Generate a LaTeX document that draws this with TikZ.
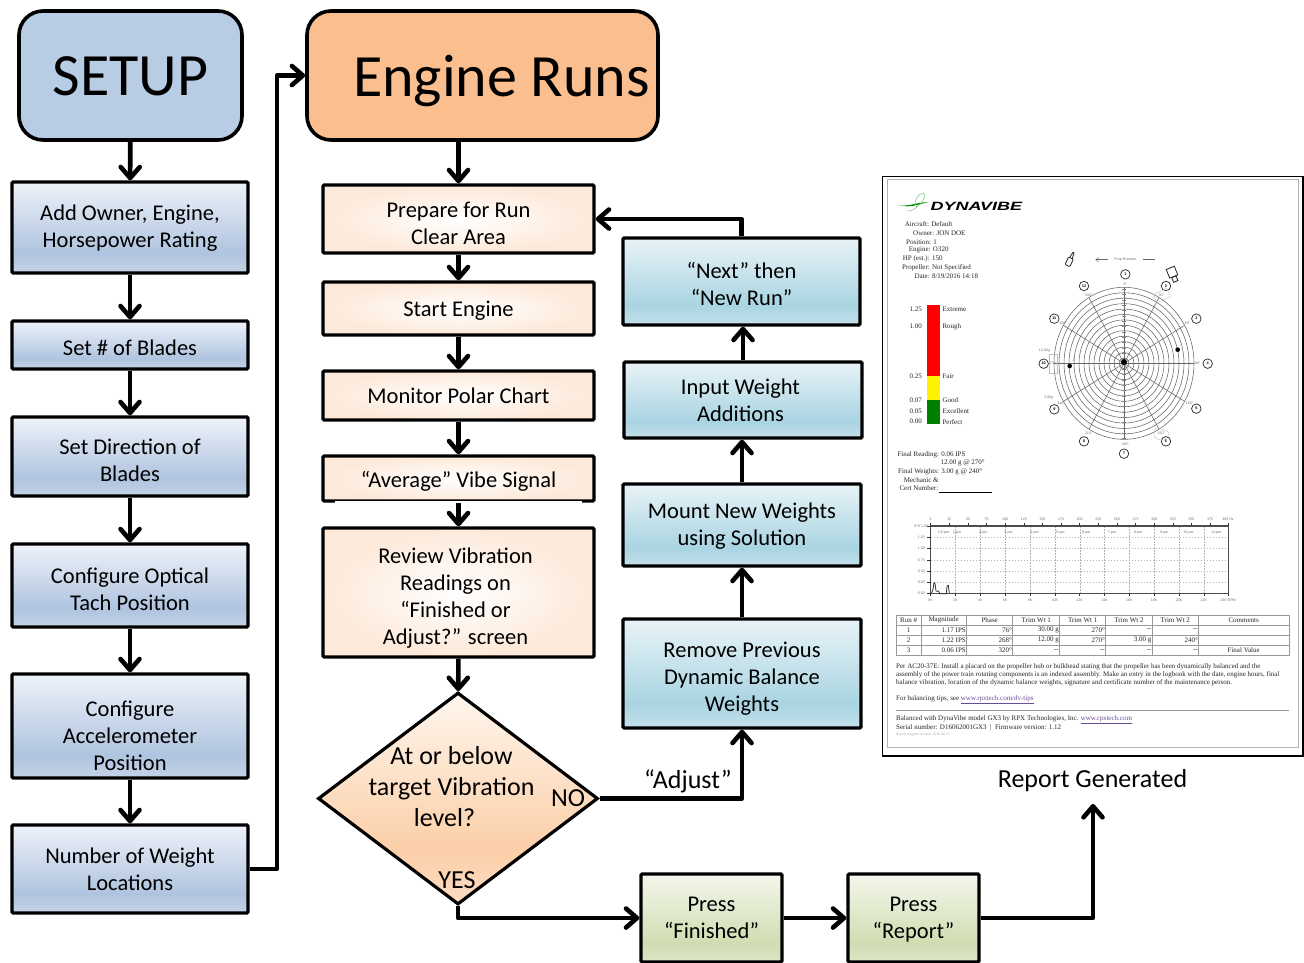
\documentclass[tikz,border=0pt]{standalone}
\usepackage{fontspec}
\setmainfont{Carlito}
\newfontfamily\rfont{Liberation Serif}
\newfontfamily\lfont{Liberation Sans}
\usetikzlibrary{arrows.meta,shapes.geometric}
\definecolor{bT}{HTML}{EEF2F9}\definecolor{bM}{HTML}{AFC4DF}\definecolor{bB}{HTML}{C4D3E7}
\definecolor{tT}{HTML}{E8F3F7}\definecolor{tM}{HTML}{A9D4E2}\definecolor{tB}{HTML}{C4E1EA}
\definecolor{gT}{HTML}{F4F7EC}\definecolor{gM}{HTML}{D0DDB2}\definecolor{gB}{HTML}{DCE6C6}
\definecolor{dT}{HTML}{FFF6EE}\definecolor{dM}{HTML}{FBCFA8}\definecolor{dB}{HTML}{FDDCC2}
\definecolor{peach}{HTML}{FDE9D9}
\definecolor{setupc}{HTML}{B8CCE4}
\definecolor{enginec}{HTML}{FBBF8F}
\definecolor{linkc}{HTML}{6A4A9A}
\pgfdeclareverticalshading{bluegrad}{100bp}{color(0bp)=(bB);color(25bp)=(bB);color(36bp)=(bM);color(75bp)=(bT);color(100bp)=(bT)}
\pgfdeclareverticalshading{tealgrad}{100bp}{color(0bp)=(tB);color(25bp)=(tB);color(36bp)=(tM);color(75bp)=(tT);color(100bp)=(tT)}
\pgfdeclareverticalshading{greengrad}{100bp}{color(0bp)=(gB);color(25bp)=(gB);color(36bp)=(gM);color(75bp)=(gT);color(100bp)=(gT)}
\pgfdeclareverticalshading{diagrad}{100bp}{color(0bp)=(dB);color(25bp)=(dB);color(38bp)=(dM);color(75bp)=(dT);color(100bp)=(dT)}
\tikzset{
  base/.style={rectangle,draw=black,line width=3.4pt,rounded corners=1.2pt,inner sep=0pt,align=center,
    font=\fontsize{22.5}{27}\selectfont},
  bluebox/.style={base,shading=bluegrad},
  tealbox/.style={base,shading=tealgrad},
  greenbox/.style={base,shading=greengrad},
  peachbox/.style={base,shading=radial,inner color=white,outer color=peach},
  bigbox/.style={base,rounded corners=24pt,line width=3.6pt,font=\fontsize{60}{70}\selectfont},
  flow/.style={line width=4.6pt,line join=round,-{Straight Barb[length=11pt,width=19pt,line width=4.6pt,round]}},
  plainlab/.style={inner sep=0pt,font=\fontsize{26}{31}\selectfont,align=center},
  rtext/.style={anchor=west,inner sep=0pt,font=\rfont\fontsize{7}{8}\selectfont,text=black!85},
  rtiny/.style={anchor=center,inner sep=0pt,font=\lfont\fontsize{3.6}{4}\selectfont,text=black!55},
  num/.style={circle,draw=black!85,line width=.7pt,minimum size=9.5pt,inner sep=0pt,font=\lfont\bfseries\fontsize{3.8}{4}\selectfont},
  grid/.style={black!30,line width=.3pt,dash pattern=on 1.5pt off 1.5pt},
  tline/.style={black!40,line width=.55pt},
}
\newcommand\bx[7]{\node[#1,minimum width={(#5-#3)*1pt},minimum height={(#6-#4)*1pt}] (#2) at ({(#3+#5)/2},{(#4+#6)/2}) {#7};}
\newcommand\dn[1]{\rule{0pt}{\dimexpr 16.5pt+#1pt+#1pt\relax}}
\newcounter{rp}
\newcommand\rp[4][]{\stepcounter{rp}\node[rtext,#1] (rp\arabic{rp}) at (#2,#3) {#4};}
\newcommand\rsm[4][]{\stepcounter{rp}\node[rtiny,#1] (rp\arabic{rp}) at (#2,#3) {#4};}
\begin{document}
\begin{tikzpicture}[x=1pt,y=-1pt]
\useasboundingbox (0,0) rectangle (1304,962);
% --- left column
\bx{bigbox,fill=setupc}{setup}{19}{11}{242}{140}{\rule{0pt}{41pt}SETUP}
\bx{bluebox}{owner}{12}{182}{248}{273}{\dn{0}Add Owner, Engine,\\Horsepower Rating}
\bx{bluebox}{blades}{12}{321}{248}{369}{\dn{2}Set \# of Blades}
\bx{bluebox}{direction}{12}{417}{248}{496}{\dn{3}Set Direction of\\Blades}
\bx{bluebox}{optical}{12}{544}{248}{627}{\dn{3}Configure Optical\\Tach Position}
\bx{bluebox}{accel}{12}{674}{248}{778}{\dn{9}Configure\\Accelerometer\\Position}
\bx{bluebox}{locations}{12}{825}{248}{913}{Number of Weight\\Locations}
% --- centre column
\bx{bigbox,fill=enginec}{engine}{307}{11}{658}{140}{\rule{0pt}{52pt}\hspace*{38pt}Engine Runs}
\bx{peachbox}{prepare}{323}{185}{594}{253}{\dn{4}Prepare for Run\\Clear Area}
\bx{peachbox}{start}{323}{282}{594}{335}{\dn{2}Start Engine}
\bx{peachbox}{monitor}{323}{371}{594}{420}{Monitor Polar Chart}
\bx{peachbox}{average}{323}{456}{594}{501}{\dn{3}“Average” Vibe Signal}
\bx{peachbox}{review}{323}{528}{594}{657}{\dn{5}\hspace*{-6pt}Review Vibration\\\hspace*{-6pt}Readings on\\\hspace*{-6pt}“Finished or\\\hspace*{-6pt}Adjust?” screen}
\node[diamond,draw=black,line width=3.2pt,shading=diagrad,inner sep=0pt,minimum width=280pt,minimum height=212pt] (check) at (458,798.5) {};
\node[plainlab] (checktxt) at (451.5,787) {At or below\\target Vibration\\\hspace*{-14pt}level?};
\node[plainlab] (no) at (568,798) {NO};
\node[plainlab] (yes) at (457,880) {YES};
% --- right column
\bx{tealbox}{next}{623}{238}{860}{325}{\dn{2}“Next” then\\“New Run”}
\bx{tealbox}{input}{624}{362}{862}{438}{\hspace*{-5pt}Input Weight\\\hspace*{-5pt}Additions}
\bx{tealbox}{mount}{623}{484}{861}{566}{\dn{1}Mount New Weights\\using Solution}
\bx{tealbox}{remove}{623}{619}{861}{728}{\dn{5}Remove Previous\\Dynamic Balance\\Weights}
\bx{greenbox}{finished}{641}{874}{782}{962}{Press\\“Finished”}
\bx{greenbox}{pressrep}{848}{874}{979}{962}{\dn{1}Press\\“Report”}
\draw[gB,line width=2pt] ([xshift=7pt]pressrep.south west) -- ([xshift=-7pt]pressrep.south east);
\node[plainlab] (adjust) at (688,781.5) {“Adjust”};
\node[plainlab] (generated) at (1092.5,781) {Report Generated};
\coordinate (bend) at (277,470);
\coordinate (repend) at (1093,804);
% --- connectors
\draw[flow] (setup) -- (owner);
\draw[flow] (owner) -- (blades);
\draw[flow] (blades) -- (direction);
\draw[flow] (direction) -- (optical);
\draw[flow] (optical) -- (accel);
\draw[flow] (accel) -- (locations);
\draw[flow] (locations.east) -| (bend) |- (engine.west);
\draw[flow] (prepare.north |- engine.south) -- (prepare.north);
\draw[flow] (prepare) -- (start);
\draw[flow] (start) -- (monitor);
\draw[flow] (monitor) -- (average);
\draw[white,line width=1.8pt] ([xshift=14pt,yshift=1pt]average.south west) -- ([xshift=-14pt,yshift=1pt]average.south east);
\draw[flow] (average) -- (review);
\draw[flow] (review) -- (check);
\draw[flow] (check.east) -| (remove.south);
\draw[flow] (remove.north) -- (remove.north |- mount.south);
\draw[flow] (mount.north) -- (mount.north |- input.south);
\draw[flow] (input.north) -- (input.north |- next.south);
\draw[flow] (next.north) |- (prepare.east);
\draw[flow] (check.south) |- (finished.west);
\draw[flow] (finished.east) -- (finished.east -| pressrep.west);
\draw[flow] (pressrep.east) -| (repend);
% --- report sheet
\draw[fill=white,draw=black,line width=1.2pt] (882.5,176.5) rectangle (1303,756);
\draw[black!30,line width=.6pt] (887,179.5) rectangle (1298,747);
\begin{scope}[shift={(882,176)},x=.33333pt,y=-.33333pt]
% logo
\fill[green!55!black] (50,88) .. controls (80,92) and (100,80) .. (140,78) .. controls (105,86) and (85,96) .. (50,88) -- cycle;
\draw[green!60!black!55,line width=.5pt] (75,105) .. controls (95,110) and (140,65) .. (125,52) .. controls (110,50) and (90,75) .. (105,95);
\node[inner sep=0pt,anchor=west] (logo) at (145,90) {\lfont\bfseries\itshape\fontsize{12}{13}\selectfont\scalebox{1.5}[1]{DYNAVIBE}};
% data
\rp{68}{145}{Aircraft: Default}
\rp{93}{171}{Owner: JON DOE}
\rp{72}{198}{Position: 1}
\rp{80}{223}{Engine: O320}
\rp{62}{249}{HP (est.): 150}
\rp{60}{275}{Propeller: Not Specified}
\rp{97}{301}{Date: 8/19/2016 14:18}
% scale bar
\fill[red] (134,388) rectangle (173,601);
\fill[yellow] (134,601) rectangle (173,673);
\fill[green!50!black] (134,673) rectangle (173,745);
\rp{82}{401}{1.25}\rp{181}{401}{Extreme}
\rp{82}{450}{1.00}\rp{181}{451}{Rough}
\rp{82}{601}{0.25}\rp{181}{601}{Fair}
\rp{82}{672}{0.07}\rp{181}{672}{Good}
\rp{82}{705}{0.05}\rp{181}{705}{Excellent}
\rp{82}{737}{0.00}\rp{181}{738}{Perfect}
\rp{46}{837}{Final Reading: 0.06 IPS}
\rp{175}{862}{12.00 g @ 270°}
\rp{48}{887}{Final Weights: 3.00 g @ 240°}
% polar chart
\foreach \r in {15,30,...,210}{
  \draw[black!60,line width=.55pt] (726,562) ellipse [x radius=\r, y radius={\r*1.0857}];
}
\foreach \a in {0,30,...,330}{
  \draw[black!60,line width=.55pt] (726,562) -- ({726+210*sin(\a)},{562-228*cos(\a)});
}
\foreach \k in {0,...,28}{
  \draw[black!50,line width=.4pt] (720,{340+\k*16}) -- (732,{340+\k*16});
}
\fill[black] (887,521) circle [radius=7];
\fill[black] (563,570) circle [radius=7];
\fill[black] (726,558) circle [radius=9];
\node[num] (n1) at (730,295) {1};
\node[num] (n2) at (852,330) {2};
\node[num] (n3) at (943,428) {3};
\node[num] (n4) at (977,563) {4};
\node[num] (n5) at (943,698) {5};
\node[num] (n6) at (852,796) {6};
\node[num] (n7) at (726,833) {7};
\node[num] (n8) at (606,796) {8};
\node[num] (n9) at (517,700) {9};
\node[num] (n10) at (485,563) {10};
\node[num] (n11) at (517,428) {11};
\node[num] (n12) at (606,330) {12};
\rsm{730}{325}{0°}\rsm{838}{357}{30°}\rsm{917}{443}{60°}\rsm{947}{563}{90°}
\rsm{923}{683}{120°}\rsm{838}{772}{150°}\rsm{730}{805}{180°}\rsm{620}{772}{210°}
\rsm{537}{683}{240°}\rsm{513}{563}{270°}\rsm{543}{443}{300°}\rsm{620}{357}{330°}
\rsm{487}{525}{12.00g}\rsm{500}{665}{3.00g}\rsm{575}{553}{2}
\draw[black!25,line width=.4pt] (503,535) rectangle (527,592);
\draw[black!25,line width=.4pt,rotate around={25:(840,358)}] (818,345) rectangle (862,372);
\draw[black!25,line width=.4pt,rounded corners=3pt] (820,752) -- (865,770) -- (845,795) -- (815,785) -- cycle;
% prop rotation arrow
\rsm{730}{250}{Prop Rotation}
\draw[black!60,line width=.4pt,-{Straight Barb[length=3pt,width=4pt]}] (678,251) -- (640,251);
\draw[black!60,line width=.4pt] (783,251) -- (820,251);
% sensors
\begin{scope}[rotate around={-25:(566,248)}]
\draw[black!85,line width=.8pt,rounded corners=1pt] (558,246) rectangle (574,271);
\draw[black!85,line width=.8pt] (562,246) -- (564,228) -- (568,228) -- (570,246);
\end{scope}
\begin{scope}[rotate around={22:(873,296)}]
\draw[black!85,line width=.8pt] (860,274) rectangle (886,302);
\draw[black!85,line width=.8pt] (866,303) rectangle (880,318);
\end{scope}
\end{scope}
\begin{scope}[shift={(882,476)},x=.33333pt,y=-.33333pt]
\rp{65}{13}{Mechanic \&}
\rp{52}{37}{Cert Number:}
\draw[black,line width=.5pt] (172,48) -- (330,48);
% spectrum chart
\foreach \k in {1,...,5}{ \draw[grid] (146,{150+\k*33.8}) -- (1040,{150+\k*33.8}); }
\foreach \k in {1,...,11}{ \draw[grid] ({146+\k*74.5},150) -- ({146+\k*74.5},353); }
\draw[black!70,line width=1.1pt] (146,150) rectangle (1040,353);
\foreach \k in {0,...,16}{ \draw[black!80,line width=.5pt] ({146+\k*55.875},150) -- ({146+\k*55.875},142); }
\foreach \k in {0,...,12}{ \draw[black!80,line width=.5pt] ({146+\k*74.5},353) -- ({146+\k*74.5},361); }
\foreach \k in {0,...,6}{ \draw[black!80,line width=.5pt] (146,{150+\k*33.83}) -- (136,{150+\k*33.83}); }
\foreach \k/\t in {0/0,1/25,2/50,3/75,4/100,5/125,6/150,7/175,8/200,9/225,10/250,11/275,12/300,13/325,14/350,15/375}{
  \rsm{146+\k*55.875}{131}{\t}
}
\rsm{1038}{131}{400 Hz}
\foreach \k/\t in {0/0K,1/2K,2/4K,3/6K,4/8K,5/10K,6/12K,7/14K,8/16K,9/18K,10/20K,11/22K}{
  \rsm{146+\k*74.5}{372}{\t}
}
\rsm{1038}{372}{24K RPM}
\rsm{118}{150}{IPS 1.50}\rsm{118}{184}{1.25}\rsm{118}{218}{1.00}\rsm{118}{252}{0.75}\rsm{118}{286}{0.50}\rsm{118}{320}{0.25}\rsm{118}{353}{0.00}
\rsm{185}{171}{1/2-per}\rsm{225}{171}{1-per}\rsm{303}{171}{2-per}\rsm{380}{171}{3-per}\rsm{458}{171}{4-per}\rsm{536}{171}{5-per}
\rsm{613}{171}{6-per}\rsm{690}{171}{7-per}\rsm{769}{171}{8-per}\rsm{847}{171}{9-per}\rsm{920}{171}{10-per}\rsm{1003}{171}{11-per}
\draw[black!80,line width=.8pt] (148,353) -- (153,340) -- (156,320) -- (159,322) -- (162,345) -- (166,346) -- (170,345) -- (173,353) -- (193,353) -- (195,330) -- (199,328) -- (202,353);
% table
\draw[tline,line width=.8pt] (42,417) rectangle (1221,539);
\foreach \y in {447,477,508}{ \draw[tline] (42,\y) -- (1221,\y); }
\foreach \x in {117,254,392,533,671,811,950}{ \draw[tline] (\x,417) -- (\x,539); }
\rsm[rtext,anchor=center]{80}{432}{Run \#}\rsm[rtext,anchor=center]{185}{432}{Magnitude}\rsm[rtext,anchor=center]{323}{432}{Phase}
\rsm[rtext,anchor=center]{463}{432}{Trim Wt 1}\rsm[rtext,anchor=center]{602}{432}{Trim Wt 1}\rsm[rtext,anchor=center]{741}{432}{Trim Wt 2}
\rsm[rtext,anchor=center]{880}{432}{Trim Wt 2}\rsm[rtext,anchor=center]{1085}{432}{Comments}
\rsm[rtext,anchor=center]{80}{462}{1}\rsm[rtext,anchor=center]{80}{492}{2}\rsm[rtext,anchor=center]{80}{523}{3}
\rsm[rtext,anchor=east]{252}{462}{1.17 IPS}\rsm[rtext,anchor=east]{252}{492}{1.22 IPS}\rsm[rtext,anchor=east]{252}{523}{0.06 IPS}
\rsm[rtext,anchor=east]{390}{462}{76°}\rsm[rtext,anchor=east]{390}{492}{268°}\rsm[rtext,anchor=east]{390}{523}{320°}
\rsm[rtext,anchor=east]{531}{462}{30.00 g}\rsm[rtext,anchor=east]{531}{492}{12.00 g}\rsm[rtext,anchor=east]{531}{523}{--}
\rsm[rtext,anchor=east]{669}{462}{270°}\rsm[rtext,anchor=east]{669}{492}{270°}\rsm[rtext,anchor=east]{669}{523}{--}
\rsm[rtext,anchor=east]{809}{462}{--}\rsm[rtext,anchor=east]{809}{492}{3.00 g}\rsm[rtext,anchor=east]{809}{523}{--}
\rsm[rtext,anchor=east]{948}{462}{--}\rsm[rtext,anchor=east]{948}{492}{240°}\rsm[rtext,anchor=east]{948}{523}{--}
\rsm[rtext,anchor=center]{1085}{523}{Final Value}
% paragraphs
\rp{42}{573}{Per AC20-37E: Install a placard on the propeller hub or bulkhead stating that the propeller has been dynamically balanced and the}
\rp{42}{597}{assembly of the power train rotating components is an indexed assembly. Make an entry in the logbook with the date, engine hours, final}
\rp{42}{621}{balance vibration, location of the dynamic balance weights, signature and certificate number of the maintenance person.}
\rp{42}{671}{For balancing tips, see \textcolor{linkc}{\underline{www.rpxtech.com/dv-tips}}}
\draw[black!40,line width=.5pt] (42,704) -- (1221,704);
\rp{42}{731}{Balanced with DynaVibe model GX3 by RPX Technologies, Inc. \textcolor{linkc}{\underline{www.rpxtech.com}}}
\rp{42}{755}{Serial number: D16062001GX3 \ |\ \ Firmware version: 1.12}
\rp[font=\rfont\fontsize{3.6}{4}\selectfont,text=black!35]{42}{775}{Report template revised: 2016-08-15}
\end{scope}
\end{tikzpicture}
\end{document}
